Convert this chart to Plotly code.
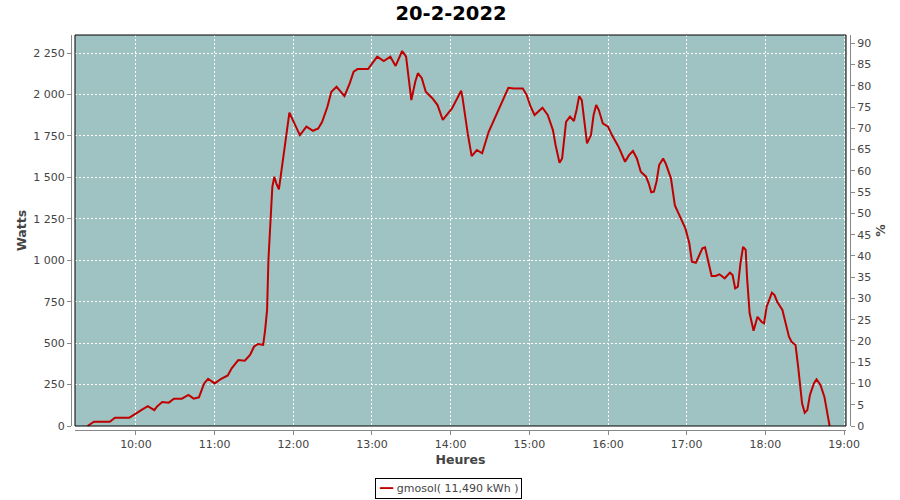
import plotly.graph_objects as go

DAY = "2022-02-20 "

times = ["09:23", "09:28", "09:40", "09:44", "09:55", "09:59", "10:04", "10:09", "10:14", "10:16",
         "10:20", "10:25", "10:29", "10:35", "10:40", "10:44", "10:48", "10:52", "10:55", "11:00",
         "11:05", "11:10", "11:13", "11:18", "11:23", "11:27", "11:30", "11:33", "11:37", "11:38:30",
         "11:40", "11:41", "11:42:30", "11:44", "11:45:30", "11:47", "11:49", "11:51", "11:53", "11:57",
         "12:05", "12:10", "12:15", "12:19", "12:22", "12:26", "12:29", "12:33", "12:39", "12:43",
         "12:46", "12:49", "12:57", "13:00", "13:04", "13:09", "13:14", "13:18", "13:23", "13:26",
         "13:30", "13:33", "13:35", "13:38", "13:41", "13:46", "13:50", "13:54", "14:01", "14:08",
         "14:09", "14:13", "14:16", "14:20", "14:24", "14:29", "14:34", "14:39", "14:44", "14:48",
         "14:55", "14:58", "15:01", "15:04", "15:10", "15:14", "15:18", "15:20", "15:23", "15:25",
         "15:28", "15:31", "15:34", "15:36", "15:38", "15:40", "15:42", "15:44", "15:47", "15:49",
         "15:51", "15:53", "15:56", "16:00", "16:03", "16:08", "16:13", "16:16", "16:19", "16:22",
         "16:25", "16:29", "16:31", "16:33", "16:35", "16:37", "16:39", "16:42", "16:44", "16:48",
         "16:51", "16:55", "16:59", "17:02", "17:04", "17:07", "17:09", "17:12", "17:14", "17:16",
         "17:19", "17:22", "17:25", "17:29", "17:33", "17:35", "17:37", "17:39", "17:41", "17:43",
         "17:45", "17:46", "17:48", "17:51", "17:54", "17:57", "17:59", "18:01", "18:05", "18:07",
         "18:09", "18:13", "18:15", "18:18", "18:20", "18:23", "18:25", "18:28", "18:30", "18:32",
         "18:34", "18:37", "18:39", "18:42", "18:45", "18:47", "18:49"]

watts = [0, 26, 26, 50, 50, 72, 96, 120, 96, 117,
         145, 141, 165, 165, 187, 165, 173, 257, 285, 257,
         285, 305, 348, 398, 394, 428, 478, 495, 490, 579,
         700, 1001, 1222, 1443, 1504, 1464, 1428, 1544, 1665, 1890,
         1755, 1806, 1781, 1795, 1835, 1926, 2016, 2046, 1990, 2067,
         2137, 2153, 2153, 2187, 2228, 2201, 2228, 2172, 2262, 2228,
         1966, 2077, 2128, 2098, 2016, 1977, 1936, 1846, 1916, 2022,
         1982, 1765, 1628, 1665, 1645, 1775, 1866, 1956, 2040, 2036,
         2036, 1996, 1926, 1876, 1920, 1876, 1785, 1695, 1588, 1614,
         1835, 1866, 1840, 1906, 1990, 1966, 1835, 1705, 1755, 1876,
         1936, 1906, 1826, 1806, 1755, 1685, 1594, 1634, 1659, 1614,
         1534, 1504, 1464, 1410, 1413, 1474, 1574, 1614, 1584, 1494,
         1330, 1259, 1192, 1102, 991, 985, 1021, 1072, 1078, 1011,
         905, 905, 915, 891, 925, 911, 830, 840, 981, 1081,
         1062, 901, 680, 575, 659, 629, 619, 720, 804, 790,
         750, 700, 629, 539, 508, 489, 358, 137, 80, 96,
         187, 257, 282, 247, 177, 77, 0]

hour_ticks = ["10:00", "11:00", "12:00", "13:00", "14:00", "15:00", "16:00", "17:00", "18:00", "19:00"]
watt_ticks = [0, 250, 500, 750, 1000, 1250, 1500, 1750, 2000, 2250]
pct_ticks = list(range(0, 95, 5))

title_text = "20-2-2022"
legend_name = "gmosol( 11,490 kWh )"

W, H = 900, 500
px_l, px_r, px_t, px_b = 75, 846, 35, 426
xd = [px_l / W, px_r / W]
yd = [(H - px_b) / H, (H - px_t) / H]

BG = "#9fc3c2"
FONT = "DejaVu Sans"
TXT = "#444444"
RED = "#c00000"

x_vals = [DAY + (t if len(t) > 5 else t + ":00") for t in times]

fig = go.Figure()
fig.add_trace(go.Scatter(
    x=x_vals, y=watts, mode="lines", name=legend_name, showlegend=False,
    line=dict(color=RED, width=2), xaxis="x", yaxis="y"))
fig.add_trace(go.Scatter(
    x=[x_vals[0]], y=[None], mode="lines", showlegend=False,
    hoverinfo="skip", xaxis="x", yaxis="y2"))

fig.update_layout(
    width=W, height=H, autosize=False,
    margin=dict(l=0, r=0, t=0, b=0, autoexpand=False),
    paper_bgcolor="white",
    plot_bgcolor=BG,
    separators=", ",
    font=dict(family=FONT, size=11, color=TXT),
    title=dict(text="<b>" + title_text + "</b>", x=451 / W, xanchor="center",
               y=1 - 13.5 / H, yanchor="middle", yref="container",
               font=dict(family=FONT, size=19.5, color="black")),
    xaxis=dict(
        type="date", domain=xd, anchor="free", position=(H - 430) / H,
        range=[DAY + "09:13:30", DAY + "19:01:30"], automargin=False,
        tickvals=[DAY + h + ":00" for h in hour_ticks], ticktext=hour_ticks,
        ticks="outside", ticklen=4, tickcolor="#888888", tickwidth=1,
        showline=True, linecolor="#888888", linewidth=1,
        showgrid=True, gridcolor="white", griddash="2px,2px", gridwidth=1,
        zeroline=False,
        tickfont=dict(family=FONT, size=11, color=TXT),
        title=dict(text="<b>Heures</b>", standoff=5,
                   font=dict(family=FONT, size=12.5, color=TXT)),
    ),
    yaxis=dict(
        domain=yd, anchor="free", position=71 / W, automargin=False,
        range=[0, 2358.6], tickvals=watt_ticks, tickformat=",d",
        ticks="outside", ticklen=4, tickcolor="#888888", tickwidth=1,
        showline=True, linecolor="#888888", linewidth=1,
        showgrid=True, gridcolor="white", griddash="2px,2px", gridwidth=1,
        zeroline=False,
        tickfont=dict(family=FONT, size=11, color=TXT),
        title=dict(text="<b>Watts</b>", standoff=2,
                   font=dict(family=FONT, size=12.5, color=TXT)),
    ),
    yaxis2=dict(
        overlaying="y", side="right", anchor="free", position=850 / W,
        automargin=False,
        range=[0, 91.95], tickvals=pct_ticks,
        ticks="outside", ticklen=4, tickcolor="#888888", tickwidth=1,
        showline=True, linecolor="#888888", linewidth=1,
        showgrid=False, zeroline=False,
        tickfont=dict(family=FONT, size=11, color=TXT),
        title=dict(text="<b>%</b>", standoff=6,
                   font=dict(family=FONT, size=12.5, color=TXT)),
    ),
    annotations=[dict(
        xref="paper", yref="paper", x=448.5 / W, y=(H - 488) / H,
        xanchor="center", yanchor="middle", showarrow=False,
        text="<span style='color:" + RED + "'><b>━━</b></span> " + legend_name,
        font=dict(family=FONT, size=11, color=TXT),
        bgcolor="white", bordercolor="black", borderwidth=1, borderpad=3,
    )],
    shapes=[dict(type="rect", xref="paper", yref="paper",
                 x0=xd[0], x1=xd[1], y0=yd[0], y1=yd[1],
                 line=dict(color="black", width=1), fillcolor="rgba(0,0,0,0)",
                 layer="above")],
    showlegend=False,
)

page_fix = (
    "document.body.style.margin='0';"
    "document.documentElement.style.overflow='hidden';"
    "document.body.style.overflow='hidden';"
)

fig.write_html("out.html", post_script=page_fix,
               config={"responsive": False, "displayModeBar": False})
